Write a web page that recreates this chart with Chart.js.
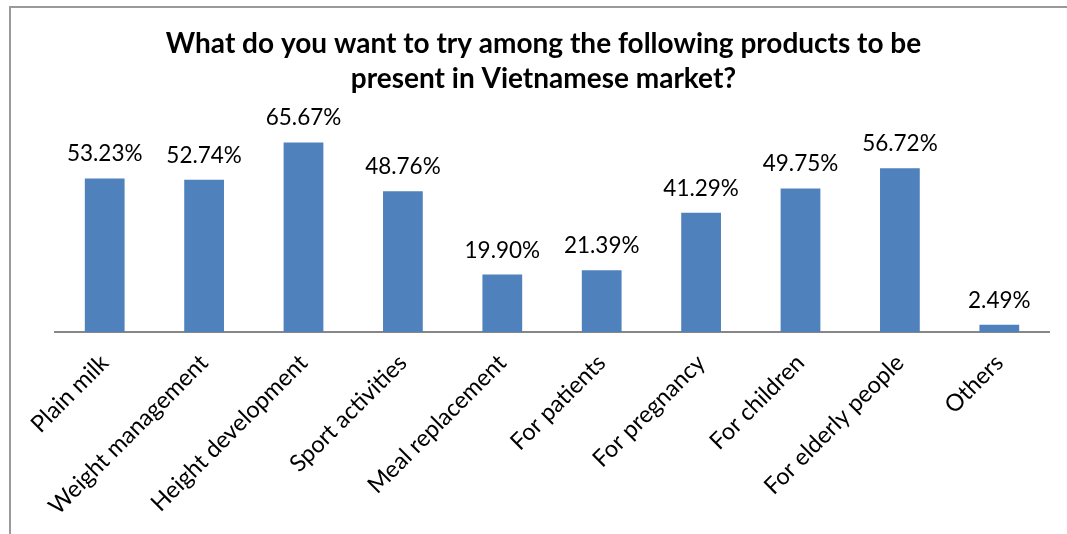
<!DOCTYPE html>
<html>
<head>
<meta charset="utf-8">
<script src="https://cdn.jsdelivr.net/npm/chart.js@4/dist/chart.umd.min.js"></script>
<style>
  html, body { margin: 0; padding: 0; background: #fff; overflow: hidden; }
  #wrap { position: relative; width: 1067px; height: 534px; }
  #frame { position: absolute; left: 9px; top: 6px; width: 1100px; height: 600px;
           border-left: 2px solid #9a9a9a; border-top: 2px solid #9a9a9a; box-sizing: border-box; }
  canvas { position: absolute; left: 0; top: 0; }
</style>
</head>
<body>
<div id="wrap">
  <div id="frame"></div>
  <canvas id="c" width="1067" height="534"></canvas>
</div>
<script>
const titleLines = ["What do you want to try among the following products to be",
                    "present in Vietnamese market?"];
const categories = ["Plain milk", "Weight management", "Height development", "Sport activities",
                    "Meal replacement", "For patients", "For pregnancy", "For children",
                    "For elderly people", "Others"];
const shares = [53.23, 52.74, 65.67, 48.76, 19.90, 21.39, 41.29, 49.75, 56.72, 2.49];

const FONT = "Lato, 'Open Sans', sans-serif";

// writes each bar's percentage above it
const valueLabels = {
  id: 'valueLabels',
  afterDatasetsDraw(chart) {
    const ctx = chart.ctx;
    const meta = chart.getDatasetMeta(0);
    ctx.save();
    ctx.font = "22.5px " + FONT;
    ctx.fillStyle = "#000";
    ctx.textAlign = "center";
    ctx.textBaseline = "alphabetic";
    meta.data.forEach((bar, i) => {
      ctx.fillText(shares[i].toFixed(2) + "%", bar.x, bar.y - 17);
    });
    ctx.restore();
  }
};

new Chart(document.getElementById('c'), {
  type: 'bar',
  data: {
    labels: categories,
    datasets: [{
      data: shares,
      backgroundColor: '#4F81BD',
      borderWidth: 0,
      barPercentage: 0.4,
      categoryPercentage: 1.0
    }]
  },
  options: {
    responsive: false,
    animation: false,
    layout: { padding: { left: 38, right: 18, top: 0, bottom: 0 } },
    plugins: {
      legend: { display: false },
      tooltip: { enabled: false },
      title: {
        display: true,
        text: titleLines,
        color: '#000',
        font: { family: FONT, size: 28, weight: 'bold', lineHeight: 1.25 },
        padding: { top: 26, bottom: 34 }
      }
    },
    scales: {
      x: {
        grid: { display: false },
        border: { display: true, color: '#868686', width: 2 },
        ticks: {
          color: '#000',
          font: { family: FONT, size: 23.5 },
          maxRotation: 45,
          minRotation: 45,
          padding: 9,
          autoSkip: false
        },
        afterFit(scale) { scale.height = 202; }
      },
      y: {
        display: true,
        min: 0,
        max: 70,
        grid: { display: false },
        border: { display: false },
        ticks: { display: false },
        afterFit(scale) { scale.width = 17; }
      }
    }
  },
  plugins: [valueLabels]
});
</script>
</body>
</html>
